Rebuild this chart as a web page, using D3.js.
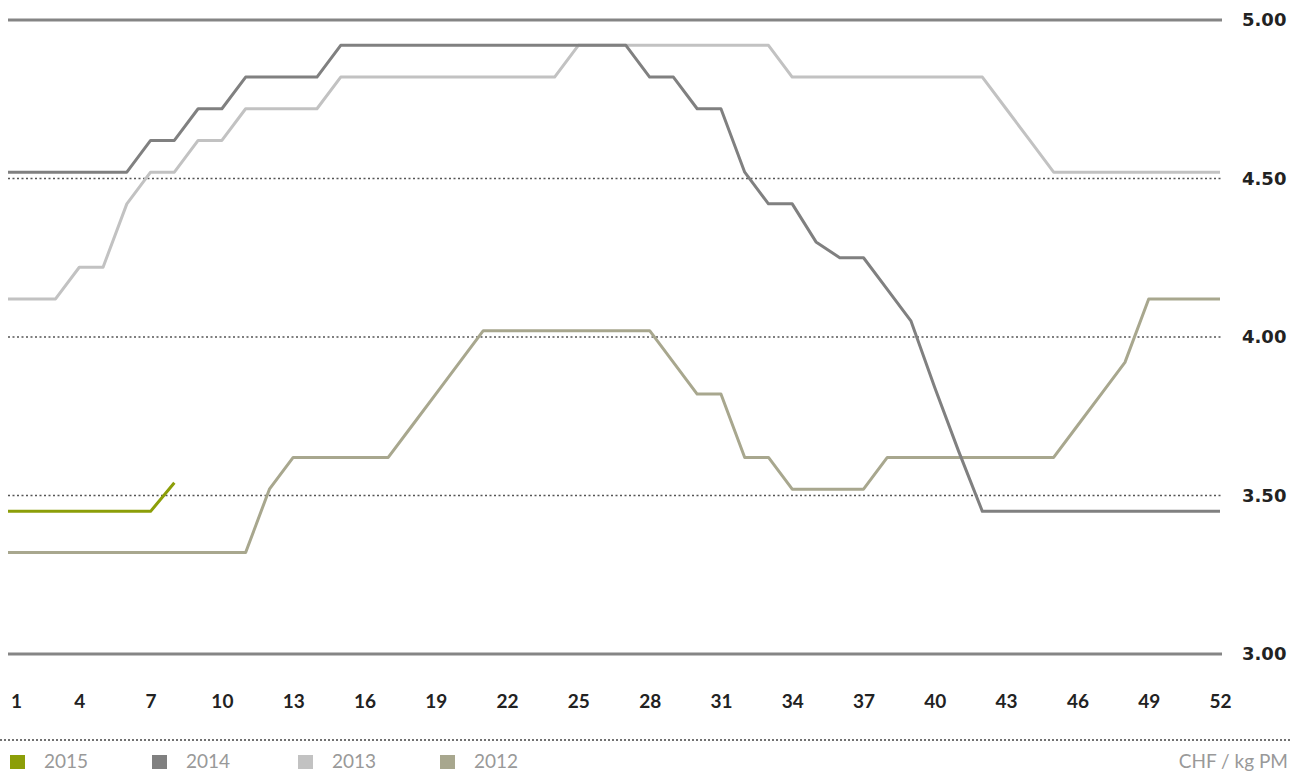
<!DOCTYPE html>
<html>
<head>
<meta charset="utf-8">
<script src="https://cdn.jsdelivr.net/npm/d3@7"></script>
<style>
  html, body { margin: 0; padding: 0; background: #fff; }
  svg { display: block; }
</style>
</head>
<body>
<svg id="chart" width="1292" height="773"></svg>
<script>
// Weekly price, CHF per kg PM, by calendar week
const weeks = d3.range(1, 53);
const weekTicks = [1, 4, 7, 10, 13, 16, 19, 22, 25, 28, 31, 34, 37, 40, 43, 46, 49, 52];
const priceTicks = [3.00, 3.50, 4.00, 4.50, 5.00];
const solidLevels = [3.00, 5.00];
const dottedLevels = [3.50, 4.00, 4.50];

const years = ["2015", "2014", "2013", "2012"];
const yearColors = ["#8c9e08", "#808080", "#c2c2c2", "#a8a78e"];

const price2015 = [3.45, 3.45, 3.45, 3.45, 3.45, 3.45, 3.45, 3.54];

const price2014 = [
  4.52, 4.52, 4.52, 4.52, 4.52, 4.52, 4.62, 4.62, 4.72, 4.72,
  4.82, 4.82, 4.82, 4.82, 4.92, 4.92, 4.92, 4.92, 4.92, 4.92,
  4.92, 4.92, 4.92, 4.92, 4.92, 4.92, 4.92, 4.82, 4.82, 4.72,
  4.72, 4.52, 4.42, 4.42, 4.30, 4.25, 4.25, 4.15, 4.05, 3.84,
  3.64, 3.45, 3.45, 3.45, 3.45, 3.45, 3.45, 3.45, 3.45, 3.45,
  3.45, 3.45
];

const price2013 = [
  4.12, 4.12, 4.12, 4.22, 4.22, 4.42, 4.52, 4.52, 4.62, 4.62,
  4.72, 4.72, 4.72, 4.72, 4.82, 4.82, 4.82, 4.82, 4.82, 4.82,
  4.82, 4.82, 4.82, 4.82, 4.92, 4.92, 4.92, 4.92, 4.92, 4.92,
  4.92, 4.92, 4.92, 4.82, 4.82, 4.82, 4.82, 4.82, 4.82, 4.82,
  4.82, 4.82, 4.72, 4.62, 4.52, 4.52, 4.52, 4.52, 4.52, 4.52,
  4.52, 4.52
];

const price2012 = [
  3.32, 3.32, 3.32, 3.32, 3.32, 3.32, 3.32, 3.32, 3.32, 3.32,
  3.32, 3.52, 3.62, 3.62, 3.62, 3.62, 3.62, 3.72, 3.82, 3.92,
  4.02, 4.02, 4.02, 4.02, 4.02, 4.02, 4.02, 4.02, 3.92, 3.82,
  3.82, 3.62, 3.62, 3.52, 3.52, 3.52, 3.52, 3.62, 3.62, 3.62,
  3.62, 3.62, 3.62, 3.62, 3.62, 3.72, 3.82, 3.92, 4.12, 4.12,
  4.12, 4.12
];

const unitLabel = "CHF / kg PM";

const svg = d3.select("#chart");

const x = d3.scaleLinear().domain([1, 52]).range([8, 1220]);
const y = d3.scaleLinear().domain([3, 5]).range([654, 20]);
const gridX0 = 8, gridX1 = 1222;

// Horizontal reference lines
const grid = svg.append("g");
grid.selectAll("line.solid")
  .data(solidLevels)
  .join("line")
  .attr("class", "solid")
  .attr("x1", gridX0).attr("x2", gridX1)
  .attr("y1", d => y(d)).attr("y2", d => y(d))
  .attr("stroke", "#858585")
  .attr("stroke-width", 3);

grid.selectAll("line.dotted")
  .data(dottedLevels)
  .join("line")
  .attr("class", "dotted")
  .attr("x1", gridX0).attr("x2", gridX1)
  .attr("y1", d => y(d)).attr("y2", d => y(d))
  .attr("stroke", "#555")
  .attr("stroke-width", 1.3)
  .attr("stroke-dasharray", "2,2.5");

// Price lines, oldest underneath
const series = [
  { year: "2012", values: price2012 },
  { year: "2013", values: price2013 },
  { year: "2014", values: price2014 },
  { year: "2015", values: price2015 }
];
const colorOf = d3.scaleOrdinal().domain(years).range(yearColors);

const line = d3.line()
  .x((d, i) => x(weeks[i]))
  .y(d => y(d));

svg.append("g")
  .selectAll("path")
  .data(series)
  .join("path")
  .attr("d", d => line(d.values))
  .attr("fill", "none")
  .attr("stroke", d => colorOf(d.year))
  .attr("stroke-width", 3)
  .attr("stroke-linejoin", "round");

// Week axis
const xAxis = d3.axisBottom(x)
  .tickValues(weekTicks)
  .tickSize(0)
  .tickPadding(0)
  .tickFormat(d3.format("d"));

const gx = svg.append("g")
  .attr("transform", "translate(0,694)")
  .call(xAxis);
gx.select(".domain").remove();
gx.selectAll("text")
  .attr("font-family", "Lato, 'Open Sans', sans-serif")
  .attr("font-weight", "bold")
  .attr("font-size", 19)
  .attr("fill", "#222")
  .attr("dx", d => d === 1 ? 8 : 0);

// Price axis on the right
const yAxis = d3.axisRight(y)
  .tickValues(priceTicks)
  .tickSize(0)
  .tickPadding(0)
  .tickFormat(d3.format(".2f"));

const gy = svg.append("g")
  .attr("transform", "translate(1242,0)")
  .call(yAxis);
gy.select(".domain").remove();
gy.selectAll("text")
  .attr("font-family", "'DejaVu Sans', Verdana, sans-serif")
  .attr("font-weight", "bold")
  .attr("font-size", 18)
  .attr("fill", "#222");

// Separator above the legend
svg.append("line")
  .attr("x1", 0).attr("x2", 1292)
  .attr("y1", 740).attr("y2", 740)
  .attr("stroke", "#444")
  .attr("stroke-width", 1.5)
  .attr("stroke-dasharray", "2,2");

// Legend
const legendX = [10, 152, 298, 440];
const legend = svg.append("g")
  .selectAll("g")
  .data(years)
  .join("g")
  .attr("transform", (d, i) => `translate(${legendX[i]},0)`);

legend.append("rect")
  .attr("x", 0).attr("y", 755)
  .attr("width", 15).attr("height", 14)
  .attr("fill", d => colorOf(d));

legend.append("text")
  .attr("x", 34).attr("y", 768)
  .attr("font-family", "Lato, 'Open Sans', sans-serif")
  .attr("font-size", 19)
  .attr("fill", "#999")
  .text(d => d);

svg.append("text")
  .attr("x", 1288).attr("y", 768)
  .attr("text-anchor", "end")
  .attr("font-family", "Lato, 'Open Sans', sans-serif")
  .attr("font-size", 19)
  .attr("fill", "#999")
  .text(unitLabel);
</script>
</body>
</html>
